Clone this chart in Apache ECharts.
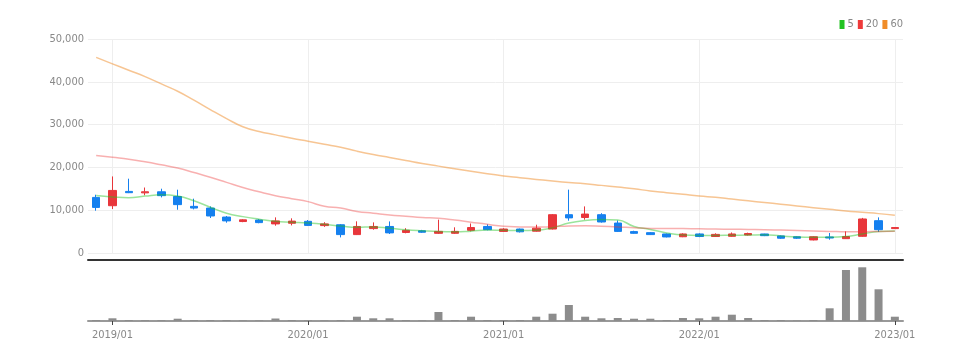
<!DOCTYPE html>
<html>
<head>
<meta charset="utf-8">
<script src="https://cdn.jsdelivr.net/npm/echarts@6/dist/echarts.min.js"></script>
<style>html,body{margin:0;padding:0;background:#fff}#c{width:965px;height:361px}</style>
</head>
<body>
<div id="c"></div>
<script>
const categories = ['2018/12','2019/01','2019/02','2019/03','2019/04','2019/05','2019/06','2019/07','2019/08','2019/09','2019/10','2019/11','2019/12',
'2020/01','2020/02','2020/03','2020/04','2020/05','2020/06','2020/07','2020/08','2020/09','2020/10','2020/11','2020/12',
'2021/01','2021/02','2021/03','2021/04','2021/05','2021/06','2021/07','2021/08','2021/09','2021/10','2021/11','2021/12',
'2022/01','2022/02','2022/03','2022/04','2022/05','2022/06','2022/07','2022/08','2022/09','2022/10','2022/11','2022/12','2023/01'];
const opens  = [12990,11050,14390,14050,14300,13200,10900,10500,8400,7350,7700,6800,6950,7400,6400,6600,4300,5700,6200,4800,5200,4600,4600,5300,6200,5050,5600,5100,5600,8950,8300,8950,7000,5000,4750,4450,3800,4450,3850,3900,4200,4450,4000,3800,3050,3750,3350,3900,7550,5700];
const closes = [10650,14620,14090,14300,13400,11300,10500,8650,7500,7750,7100,7500,7450,6450,6800,4300,6200,6200,4700,5300,4850,5050,5050,5950,5450,5600,4950,5800,8950,8200,9100,7250,5050,4600,4300,3750,4450,3850,4350,4450,4550,4050,3450,3450,3800,3500,3850,7950,5450,5950];
const lows   = [9880,10280,14000,13500,12990,10110,10190,8180,7080,7200,6950,6380,6450,6300,6100,3640,4200,5440,4440,4600,4700,4450,4450,5050,5300,4950,4800,5000,5500,7550,7780,7100,4900,4500,4200,3650,3700,3700,3750,3800,4100,3950,3300,3300,2950,3110,3300,3800,4910,5600];
const highs  = [13620,17890,17360,15300,15020,14790,12690,10890,8640,7900,7900,8320,8100,7700,7200,6770,7400,7150,7380,5800,5400,7800,6000,6900,6700,5800,5700,6610,9100,14800,10890,9300,7600,5200,4900,4550,4600,4600,4600,4800,4750,4500,4100,3900,3900,4670,5050,8200,8320,6050];
const ma5  = [13450,13100,12900,13300,13600,13300,12200,10700,9300,8500,7900,7400,7200,7000,6700,6300,6000,6100,5800,5450,5200,5000,4950,5100,5350,5300,5250,5300,5900,7000,7600,7800,7700,6200,5500,4700,4200,4100,4100,4150,4200,4250,4000,3750,3700,3700,3850,4450,5000,5150];
const ma20 = [22800,22350,21900,21300,20600,19850,18800,17700,16500,15300,14300,13400,12700,12000,10900,10500,9700,9300,8900,8600,8300,8100,7700,7200,6700,6250,6100,6050,6150,6300,6350,6250,6100,5900,5750,5750,5700,5650,5600,5550,5500,5450,5350,5250,5150,5050,4950,4950,5050,5100];
const ma60 = [45700,44200,42700,41200,39500,37800,35700,33500,31400,29500,28400,27600,26800,26100,25400,24700,23800,23000,22300,21600,20900,20300,19700,19100,18500,18000,17600,17200,16800,16500,16200,15800,15400,15000,14500,14100,13700,13300,13000,12600,12200,11800,11400,11000,10600,10200,9800,9500,9200,8800];
const volumes = [1,2.7,1,0.8,0.8,2.3,1,1,1,0.6,0.6,2.5,1,0.6,0.6,1,4.3,2.7,2.7,1,0.6,9,1,4.3,1,1,1,4.3,7.3,16,4.3,2.7,3,2.3,2.3,1,3,2.7,4.3,6.3,3,1,1,0.5,1,12.7,51,53.7,31.7,4.3];
const maNames = ['5','20','60'];

const FONT = "'Liberation Sans Narrow','DejaVu Sans Condensed','Roboto Condensed','Liberation Sans',sans-serif";
const isYear = (idx, val) => /\/01$/.test(val);
const yearCats = categories.filter(c => /\/01$/.test(c));
const candleData = categories.map((c, i) => [opens[i], closes[i], lows[i], highs[i]]);
const volData = volumes.map(v => v * 100000);

const chart = echarts.init(document.getElementById('c'), null, {renderer: 'canvas'});
chart.setOption({
  animation: false,
  backgroundColor: '#fff',
  textStyle: {fontFamily: FONT},
  legend: {
    top: 19, right: 62, padding: 0, itemWidth: 5, itemHeight: 9, itemGap: 4,
    icon: 'rect',
    textStyle: {color: '#888', fontSize: 11, fontFamily: FONT, padding: [0,0,0,-2]},
    data: [
      {name: '5', itemStyle: {color: '#22c322', opacity: 1}},
      {name: '20', itemStyle: {color: '#ee3a3a', opacity: 1}},
      {name: '60', itemStyle: {color: '#f08c28', opacity: 1}}
    ]
  },
  grid: [
    {left: 88, right: 62, top: 39, height: 214},
    {left: 88, right: 62, top: 266, height: 55}
  ],
  xAxis: [
    {type: 'category', gridIndex: 0, data: categories, boundaryGap: true, offset: 7,
     axisLine: {onZero: false, lineStyle: {color: '#333', width: 2}}, axisTick: {show: false}, axisLabel: {show: false},
     splitLine: {show: false}},
    {type: 'category', gridIndex: 1, data: categories, boundaryGap: true,
     axisLine: {onZero: false, lineStyle: {color: '#999', width: 2}},
     axisTick: {show: true, alignWithLabel: true, interval: isYear, length: 4, lineStyle: {color: '#444'}},
     axisLabel: {interval: isYear, color: '#888', fontSize: 11, fontFamily: FONT, margin: 9},
     splitLine: {show: false}}
  ],
  yAxis: [
    {type: 'value', gridIndex: 0, min: 0, max: 50000, interval: 10000,
     axisLine: {show: false}, axisTick: {show: false},
     axisLabel: {color: '#888', fontSize: 11, fontFamily: FONT, margin: 4,
                 formatter: v => v.toLocaleString('en-US')},
     splitLine: {lineStyle: {color: '#eeeeee'}}},
    {type: 'value', gridIndex: 1, min: 0, max: 5500000,
     axisLine: {show: false}, axisTick: {show: false}, axisLabel: {show: false}, splitLine: {show: false}}
  ],
  series: [
    {name: 'grid', type: 'line', xAxisIndex: 0, yAxisIndex: 0, data: [], silent: true,
     markLine: {silent: true, symbol: 'none', z: 1, label: {show: false}, animation: false,
       lineStyle: {color: '#eeeeee', type: 'solid', width: 1},
       data: yearCats.map(c => ({xAxis: c}))}},
    {name: 'candle', type: 'candlestick', xAxisIndex: 0, yAxisIndex: 0, data: candleData, barWidth: 8, z: 3,
     itemStyle: {color: '#e8363b', color0: '#1580ef', borderColor: '#e8363b', borderColor0: '#1580ef', borderWidth: 1}},
    {name: maNames[0], type: 'line', xAxisIndex: 0, yAxisIndex: 0, data: ma5, smooth: true, symbol: 'none', z: 4,
     itemStyle: {color: '#22c322'}, lineStyle: {width: 1.5, color: '#22c322', opacity: 0.45}},
    {name: maNames[1], type: 'line', xAxisIndex: 0, yAxisIndex: 0, data: ma20, smooth: true, symbol: 'none', z: 4,
     itemStyle: {color: '#ee3a3a'}, lineStyle: {width: 1.5, color: '#ee3a3a', opacity: 0.4}},
    {name: maNames[2], type: 'line', xAxisIndex: 0, yAxisIndex: 0, data: ma60, smooth: true, symbol: 'none', z: 4,
     itemStyle: {color: '#f08c28'}, lineStyle: {width: 1.5, color: '#f08c28', opacity: 0.5}},
    {name: 'volume', type: 'bar', xAxisIndex: 1, yAxisIndex: 1, data: volData, barWidth: 8,
     itemStyle: {color: '#8c8c8c'}}
  ]
});
</script>
</body>
</html>
